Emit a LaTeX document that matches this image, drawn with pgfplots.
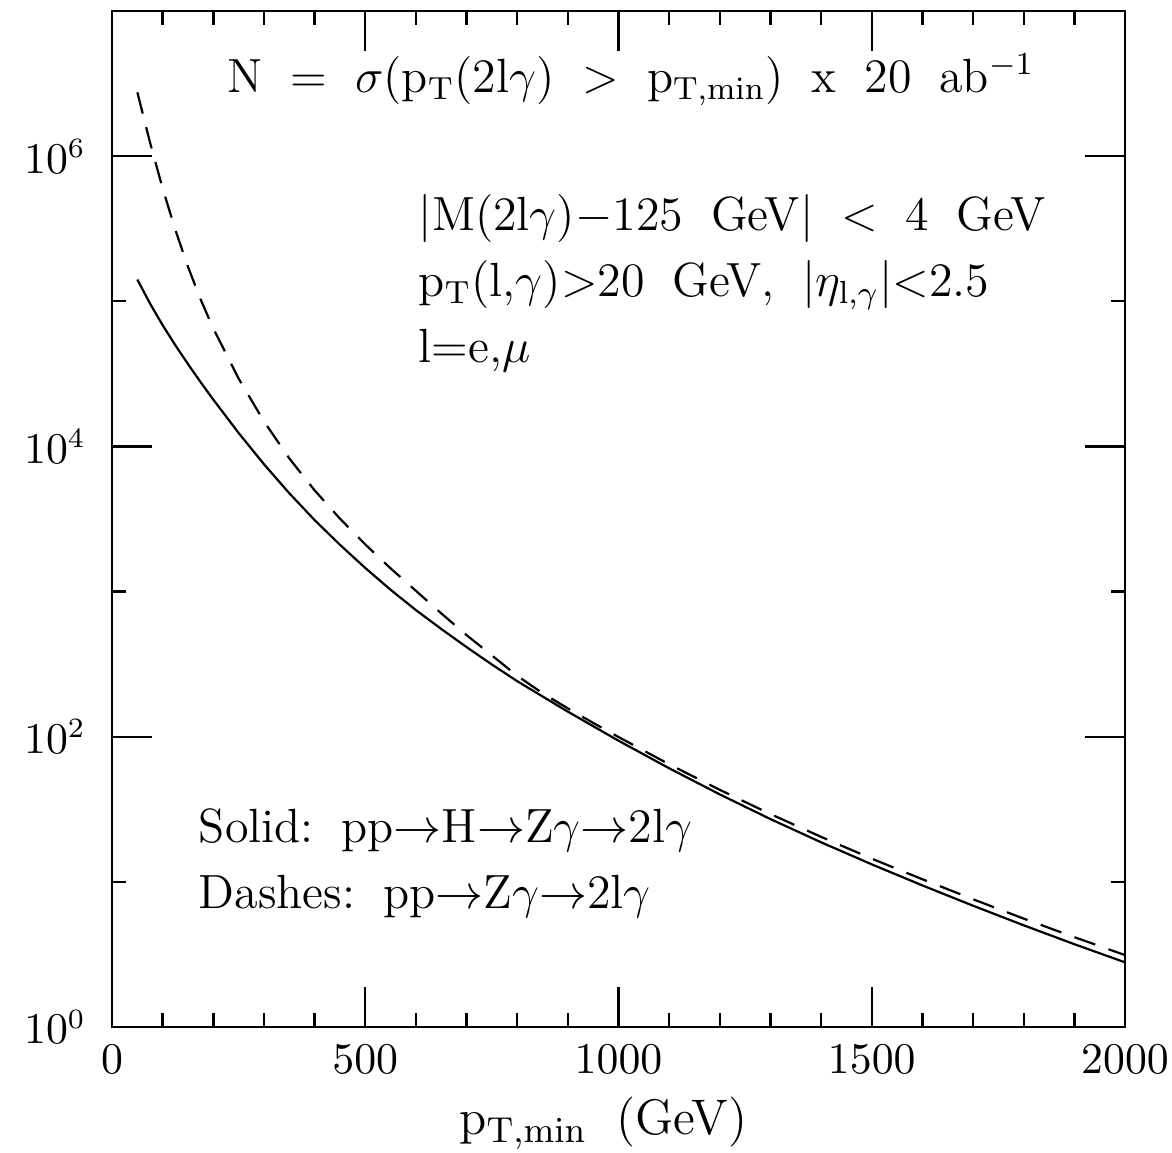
\documentclass[border=0pt]{standalone}
\usepackage{pgfplots}
\pgfplotsset{compat=1.18}
\usetikzlibrary{calc}
\pgfplotstableread{
x y
50 141254
75 96605
100 68391
125 49831
150 36940
175 27701
200 21007
250 12375
300 7542
350 4759
400 3108
450 2101
500 1454
550 1029
600 745.6
650 552.7
700 414.5
750 314.4
800 241.3
900 148.8
1000 93.87
1100 60.60
1200 40.04
1300 27.07
1400 18.73
1500 13.20
1600 9.45
1700 6.85
1800 5.02
1900 3.72
2000 2.79
}\solid
\pgfplotstableread{
x y
50 2754200
75 1244500
100 599170
125 310810
150 172780
175 102920
200 64938
250 29343
300 14876
350 8270
400 4983
450 3181
500 2113
550 1445
600 1012
650 707.9
700 501.2
750 363.1
800 263.0
850 199.5
900 156.7
950 124.5
1000 99.54
1100 64.57
1200 43.05
1300 29.31
1400 20.42
1500 14.45
1600 10.42
1700 7.59
1800 5.58
1900 4.16
2000 3.13
}\dashed
\newcommand\sep{\hspace{0.58em}}
\begin{document}
\begin{tikzpicture}
\begin{axis}[
  name=ax,
  scale only axis,
  width=253.25pt, height=254pt,
  xmin=0, xmax=2000,
  ymode=log, ymin=1, ymax=1e7,
  xtick={0,500,1000,1500,2000},
  minor xtick={100,200,300,400,600,700,800,900,1100,1200,1300,1400,1600,1700,1800,1900},
  ytick={1,100,10000,1000000},
  minor ytick={10,1000,100000},
  major tick length=10pt,
  minor tick length=3.5pt,
  tick align=inside,
  tick style={line width=0.6pt, black},
  axis line style={line width=0.7pt},
  /pgf/number format/1000 sep={},
  ticklabel style={font=\fontsize{10.5}{12}\selectfont},
  yticklabel style={xshift=-3pt},
  xticklabel style={yshift=-1pt},
  xlabel={p$_{\mathrm{T,min}}$\sep(GeV)},
  xlabel style={font=\fontsize{12.5}{14}\selectfont, at={(axis description cs:0.485,0)}, anchor=center, yshift=-24pt},
  every node near coord/.style={},
  clip=true,
]
\addplot[black, line width=0.55pt] table[x=x,y=y] {\solid};
\addplot[black, line width=0.55pt, dash pattern=on 5.5pt off 3.5pt] table[x=x,y=y] {\dashed};
\node[font=\fontsize{12}{14}\selectfont, anchor=center, inner sep=0pt] at (rel axis cs:0.5125,0.932)
  {N\sep$=$\sep$\sigma$(p$_{\mathrm{T}}$(2l$\gamma$)\sep$>$\sep p$_{\mathrm{T,min}}$)\sep x\sep 20\sep ab$^{-1}$};
\node[font=\fontsize{12}{14}\selectfont, anchor=west, inner sep=0pt] at (rel axis cs:0.302,0.796)
  {$|$M(2l$\gamma$)$-$125\sep GeV$|$\sep$<$\sep 4\sep GeV};
\node[font=\fontsize{12}{14}\selectfont, anchor=west, inner sep=0pt] at (rel axis cs:0.302,0.730)
  {p$_{\mathrm{T}}$(l,$\gamma$)$>$20\sep GeV,\sep$|\eta_{\mathrm{l},\gamma}|$$<$2.5};
\node[font=\fontsize{12}{14}\selectfont, anchor=west, inner sep=0pt] at (rel axis cs:0.302,0.666)
  {l=e,$\mu$};
\node[font=\fontsize{12}{14}\selectfont, anchor=west, inner sep=0pt] at (rel axis cs:0.085,0.194)
  {Solid:\sep pp$\to$H$\to$Z$\gamma$$\to$2l$\gamma$};
\node[font=\fontsize{12}{14}\selectfont, anchor=west, inner sep=0pt] at (rel axis cs:0.085,0.128)
  {Dashes:\sep pp$\to$Z$\gamma$$\to$2l$\gamma$};
\end{axis}
\pgfresetboundingbox
\path[use as bounding box] ($(ax.south west)+(-28pt,-31.25pt)$) rectangle ($(ax.north east)+(11.75pt,2.75pt)$);
\end{tikzpicture}
\end{document}
